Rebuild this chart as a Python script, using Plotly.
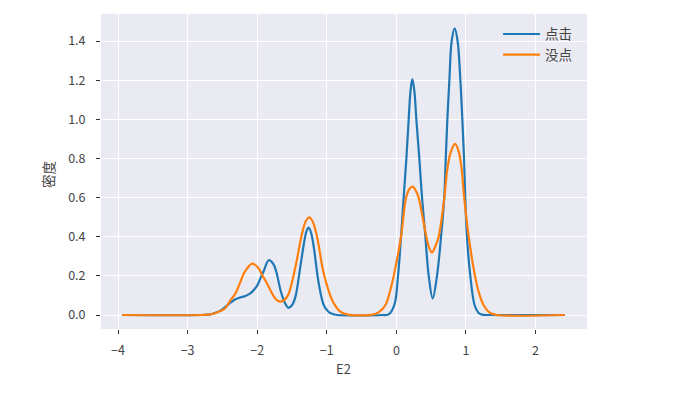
import plotly.graph_objects as go

# Data (KDE curves of E2)
blue_name = "点击"
blue_x = [-3.94, -2.8, -2.67, -2.6, -2.53, -2.457, -2.385, -2.313, -2.24, -2.17,
          -2.10, -2.05, -2.0, -1.954, -1.906, -1.835, -1.77, -1.725, -1.66, -1.6,
          -1.552, -1.5, -1.45, -1.38, -1.32, -1.29, -1.26, -1.225, -1.188, -1.116,
          -1.044, -0.98, -0.924, -0.85, -0.2, -0.11, -0.03, 0.024, 0.067, 0.105,
          0.144, 0.177, 0.205, 0.23, 0.26, 0.287, 0.33, 0.369, 0.417, 0.465,
          0.522, 0.584, 0.642, 0.688, 0.71, 0.733, 0.762, 0.795, 0.838, 0.88,
          0.92, 0.948, 0.973, 0.99, 1.015, 1.063, 1.125, 1.18, 1.23, 1.35,
          2.42]
blue_y = [0, 0, 0.003, 0.012, 0.022, 0.042, 0.063, 0.08, 0.09, 0.097,
          0.11, 0.128, 0.15, 0.187, 0.225, 0.28, 0.262, 0.22, 0.12, 0.06,
          0.037, 0.05, 0.094, 0.247, 0.383, 0.43, 0.446, 0.42, 0.35, 0.162,
          0.051, 0.018, 0.006, 0, 0, 0.003, 0.05, 0.2, 0.4, 0.6,
          0.8, 1.0, 1.15, 1.205, 1.14, 1.0, 0.8, 0.6, 0.4, 0.2,
          0.085, 0.2, 0.4, 0.6, 0.8, 1.0, 1.2, 1.4, 1.465, 1.4,
          1.2, 1.0, 0.8, 0.6, 0.4, 0.2, 0.05, 0.012, 0.002, 0,
          0]

orange_name = "没点"
orange_x = [-3.94, -2.8, -2.67, -2.6, -2.53, -2.457, -2.385, -2.313, -2.24, -2.19,
            -2.13, -2.08, -2.03, -1.98, -1.93, -1.86, -1.786, -1.73, -1.667, -1.6,
            -1.547, -1.45, -1.355, -1.3, -1.25, -1.2, -1.14, -1.044, -0.924, -0.805,
            -0.7, -0.34, -0.25, -0.158, -0.1, -0.038, 0.067, 0.14, 0.19, 0.235,
            0.28, 0.32, 0.378, 0.431, 0.47, 0.512, 0.56, 0.608, 0.69, 0.73,
            0.78, 0.843, 0.9, 0.94, 0.975, 1.04, 1.13, 1.19, 1.255, 1.35,
            1.45, 2.42]
orange_y = [0, 0, 0.003, 0.01, 0.02, 0.036, 0.075, 0.11, 0.17, 0.213,
            0.245, 0.262, 0.256, 0.238, 0.205, 0.162, 0.11, 0.08, 0.068, 0.08,
            0.11, 0.247, 0.417, 0.48, 0.499, 0.475, 0.40, 0.213, 0.077, 0.017,
            0.002, 0.002, 0.015, 0.05, 0.11, 0.2, 0.4, 0.6, 0.645, 0.656,
            0.635, 0.6, 0.5, 0.4, 0.345, 0.32, 0.35, 0.4, 0.6, 0.74,
            0.83, 0.874, 0.83, 0.74, 0.6, 0.4, 0.2, 0.11, 0.05, 0.01,
            0, 0]

x_ticks = [-4, -3, -2, -1, 0, 1, 2]
y_ticks = [0.0, 0.2, 0.4, 0.6, 0.8, 1.0, 1.2, 1.4]

FONT = "Noto Sans CJK SC, DejaVu Sans, sans-serif"
TXT = "#444444"

fig = go.Figure()
fig.add_trace(go.Scatter(x=blue_x, y=blue_y, mode="lines", name=blue_name,
                         line=dict(color="#1f77b4", width=2.2, shape="spline", smoothing=1.0)))
fig.add_trace(go.Scatter(x=orange_x, y=orange_y, mode="lines", name=orange_name,
                         line=dict(color="#ff7f0e", width=2.2, shape="spline", smoothing=1.0)))

fig.update_layout(
    width=684, height=395,
    margin=dict(l=101, r=97, t=14, b=66),
    paper_bgcolor="white", plot_bgcolor="#EAEAF2",
    font=dict(family=FONT, size=12.5, color=TXT),
    showlegend=True,
    legend=dict(x=0.817, y=0.985, xanchor="left", yanchor="top", itemwidth=37,
                bgcolor="rgba(0,0,0,0)", font=dict(size=13.5, color=TXT)),
    xaxis=dict(range=[-4.245, 2.74], tickvals=x_ticks,
               ticktext=[("−%d" % -v) if v < 0 else str(v) for v in x_ticks],
               showgrid=True, gridcolor="white", gridwidth=1, zeroline=False,
               ticks="outside", ticklen=4, tickcolor="#333333", showline=False,
               ticklabelstandoff=6),
    yaxis=dict(range=[-0.0715, 1.538], tickvals=y_ticks, ticktext=["%.1f" % v for v in y_ticks],
               showgrid=True, gridcolor="white", gridwidth=1, zeroline=False,
               ticks="outside", ticklen=4, tickcolor="#333333", showline=False,
               ticklabelstandoff=8),
    annotations=[
        dict(text="E2", xref="paper", yref="paper", x=0.498, y=-0.124,
             xanchor="center", yanchor="middle", showarrow=False,
             font=dict(size=13, color=TXT)),
        dict(text="密度", xref="paper", yref="paper", x=-0.109, y=0.489,
             xanchor="center", yanchor="middle", showarrow=False, textangle=-90,
             font=dict(size=13.5, color=TXT)),
    ],
)

fig.write_html("out.html")
